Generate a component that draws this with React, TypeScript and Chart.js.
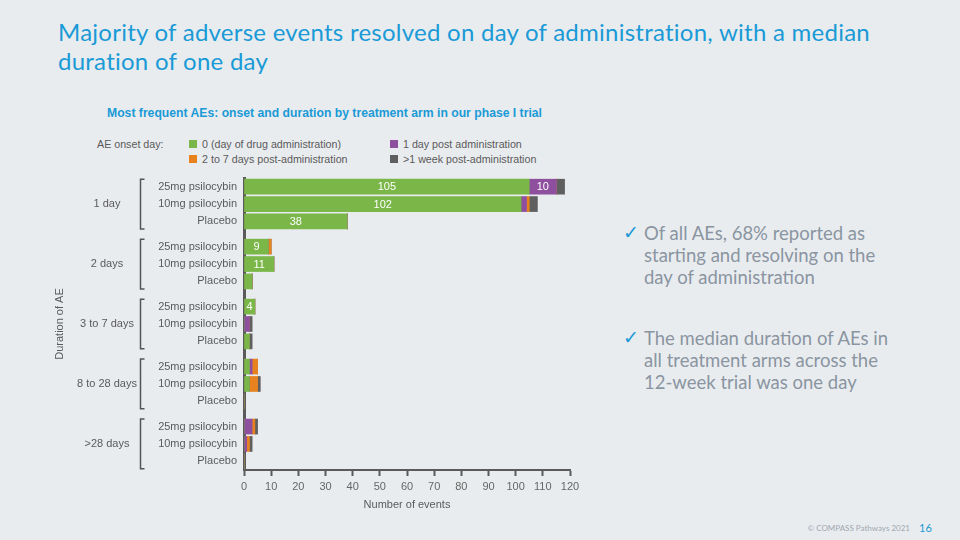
import React, { useEffect, useRef } from "react";
import { Chart, registerables } from "chart.js";

Chart.register(...registerables);

// ---- data ----
const groups = ["1 day", "2 days", "3 to 7 days", "8 to 28 days", ">28 days"];
const arms = ["25mg psilocybin", "10mg psilocybin", "Placebo"];
// rows ordered group by group, arms 25mg / 10mg / Placebo
const day0 = [105, 102, 38, 9, 11, 3, 4, 0, 2, 2, 2, 0, 0, 0, 0];
const day1 = [10, 2, 0, 0, 0, 0, 0, 2, 0, 1, 0, 0, 3, 1, 0];
const days2to7 = [0, 1, 0, 1, 0, 0, 0, 0, 0, 2, 3, 0, 1, 1, 0];
const weekPlus = [3, 3, 0, 0, 0, 0, 0, 1, 1, 0, 1, 0, 1, 1, 0];
const seriesNames = [
  "0 (day of drug administration)",
  "1 day post administration",
  "2 to 7 days post-administration",
  ">1 week post-administration",
];
const seriesColors = ["#7ab648", "#8e4f9f", "#e8821e", "#5f5f5f"];
const xTicksMax = 120;
const xStep = 10;

const GROUP_PITCH = 3.45;
const rowPos = (i: number) => Math.floor(i / 3) * GROUP_PITCH + (i % 3);
const positions = day0.map((_, i) => rowPos(i));

const FONT = "'Liberation Sans', Arial, sans-serif";
const TXT = "#5a5a5a";

const labelPlugin = {
  id: "segLabels",
  afterDatasetsDraw(chart: any) {
    const ctx = chart.ctx;
    ctx.save();
    ctx.font = `11px ${FONT}`;
    ctx.fillStyle = "#ffffff";
    ctx.textAlign = "center";
    ctx.textBaseline = "middle";
    chart.data.datasets.forEach((ds: any, di: number) => {
      const meta = chart.getDatasetMeta(di);
      meta.data.forEach((el: any, i: number) => {
        const v = ds.data[i].x;
        if (v >= 4) {
          const cx = (el.x + el.base) / 2;
          ctx.fillText(String(v), cx, el.y + 0.5);
        }
      });
    });
    ctx.restore();
  },
};

const groupPlugin = {
  id: "groupBrackets",
  afterDraw(chart: any) {
    const ctx = chart.ctx;
    const ys = chart.scales.y;
    ctx.save();
    ctx.font = `11px ${FONT}`;
    ctx.fillStyle = TXT;
    ctx.textAlign = "center";
    ctx.textBaseline = "middle";
    ctx.strokeStyle = "#555";
    ctx.lineWidth = 1.5;
    groups.forEach((g, gi) => {
      const base = gi * GROUP_PITCH;
      const top = ys.getPixelForValue(base - 0.43);
      const bot = ys.getPixelForValue(base + 2.43);
      const mid = ys.getPixelForValue(base + 1);
      ctx.fillText(g, 107, mid);
      const bx = 140.5;
      ctx.beginPath();
      ctx.moveTo(bx + 4, top);
      ctx.lineTo(bx, top);
      ctx.lineTo(bx, bot);
      ctx.lineTo(bx + 4, bot);
      ctx.stroke();
    });
    ctx.restore();
  },
};

function ChartBox() {
  const ref = useRef<HTMLCanvasElement>(null);
  useEffect(() => {
    const all = [day0, day1, days2to7, weekPlus];
    const chart = new Chart(ref.current as HTMLCanvasElement, {
      type: "bar",
      data: {
        datasets: all.map((arr, k) => ({
          label: seriesNames[k],
          data: arr.map((v, i) => ({ x: v, y: positions[i] })),
          backgroundColor: seriesColors[k],
          borderWidth: 0,
          barThickness: 15,
        })),
      },
      options: {
        indexAxis: "y",
        animation: false,
        responsive: false,
        devicePixelRatio: 1,
        layout: { padding: { left: 0, right: 30, top: 8, bottom: 0 } },
        plugins: { legend: { display: false }, tooltip: { enabled: false } },
        scales: {
          x: {
            type: "linear",
            stacked: true,
            min: 0,
            max: xTicksMax,
            ticks: {
              stepSize: xStep,
              autoSkip: false,
              maxRotation: 0,
              padding: 4,
              color: "#666",
              font: { family: FONT, size: 11 },
            },
            grid: {
              drawOnChartArea: false,
              drawTicks: true,
              tickLength: 6,
              tickWidth: 2,
              color: "#5a5a5a",
            },
            border: { display: true, color: "#5a5a5a", width: 2 },
            title: {
              display: true,
              text: "Number of events",
              color: TXT,
              font: { family: FONT, size: 11 },
              padding: { top: 0, bottom: 8 },
            },
            afterFit(s: any) {
              s.height = 50;
              s.paddingLeft = 0;
              s.paddingRight = 0;
            },
          },
          y: {
            type: "linear",
            stacked: true,
            reverse: true,
            offset: false,
            min: -0.5,
            max: 4 * GROUP_PITCH + 2.5,
            afterBuildTicks(s: any) {
              s.ticks = positions.map((p) => ({ value: p }));
            },
            ticks: {
              autoSkip: false,
              padding: 7,
              color: TXT,
              font: { family: FONT, size: 11 },
              callback: (_v: any, i: number) => arms[i % 3],
            },
            grid: { offset: false, drawOnChartArea: false, drawTicks: false, color: "#5a5a5a" },
            border: { display: true, color: "#5a5a5a", width: 3 },
            title: {
              display: true,
              text: "Duration of AE",
              color: TXT,
              font: { family: FONT, size: 11 },
              padding: { top: 53, bottom: 0 },
            },
            afterFit(s: any) {
              s.width = 244;
              s.paddingTop = 0;
              s.paddingBottom = 0;
            },
          },
        },
      },
      plugins: [labelPlugin, groupPlugin],
    } as any);
    return () => chart.destroy();
  }, []);
  return <canvas ref={ref} width={600} height={350} style={{ position: "absolute", left: 0, top: 170 }} />;
}

const BLUE = "#1a9ad6";
const GREY = "#8a95a1";

export default function App() {
  useEffect(() => {
    document.body.style.margin = "0";
  }, []);
  const legendItem = (k: number, left: number, top: number) => (
    <div style={{ position: "absolute", left, top, display: "flex", alignItems: "center", whiteSpace: "nowrap" }}>
      <span style={{ width: 8, height: 8, background: seriesColors[k], display: "inline-block", marginRight: 5 }} />
      <span>{seriesNames[k]}</span>
    </div>
  );
  const bullet = (top: number, lines: string[]) => (
    <div style={{ position: "absolute", left: 622, top, fontFamily: "Lato, sans-serif", fontSize: 18.5, lineHeight: "22px", color: GREY }}>
      <span style={{ position: "absolute", left: 1, top: -1, color: BLUE, fontFamily: "'DejaVu Sans', sans-serif", fontSize: 19 }}>✓</span>
      <div style={{ marginLeft: 22 }}>
        {lines.map((l, i) => (
          <div key={i} style={{ whiteSpace: "nowrap" }}>{l}</div>
        ))}
      </div>
    </div>
  );
  return (
    <div style={{ position: "fixed", left: 0, top: 0, width: 960, height: 540, background: "#e9ecef", overflow: "hidden" }}>
      <div style={{ position: "absolute", left: 58, top: 17, fontFamily: "Lato, sans-serif", fontWeight: 400, fontSize: 24, letterSpacing: "0.25px", lineHeight: "29px", color: BLUE, whiteSpace: "nowrap", fontVariantLigatures: "none" }}>
        <div>Majority of adverse events resolved on day of administration, with a median</div>
        <div>duration of one day</div>
      </div>
      <div style={{ position: "absolute", left: 107, top: 106, fontFamily: FONT, fontWeight: 700, fontSize: 12.2, color: BLUE, whiteSpace: "nowrap" }}>
        Most frequent AEs: onset and duration by treatment arm in our phase I trial
      </div>
      <div style={{ position: "absolute", left: 0, top: 0, fontFamily: FONT, fontSize: 10.7, color: TXT }}>
        <div style={{ position: "absolute", left: 97, top: 138, whiteSpace: "nowrap" }}>AE onset day:</div>
        {legendItem(0, 189, 138)}
        {legendItem(1, 390, 138)}
        {legendItem(2, 189, 153)}
        {legendItem(3, 390, 153)}
      </div>
      <ChartBox />
      {bullet(222, ["Of all AEs, 68% reported as", "starting and resolving on the", "day of administration"])}
      {bullet(327, ["The median duration of AEs in", "all treatment arms across the", "12-week trial was one day"])}
      <div style={{ position: "absolute", right: 50, top: 523, fontFamily: "Lato, sans-serif", fontSize: 8, color: "#a0a8b0", whiteSpace: "nowrap" }}>
        © COMPASS Pathways 2021
      </div>
      <div style={{ position: "absolute", left: 919, top: 521, fontFamily: "Lato, sans-serif", fontSize: 11, color: BLUE }}>16</div>
    </div>
  );
}
